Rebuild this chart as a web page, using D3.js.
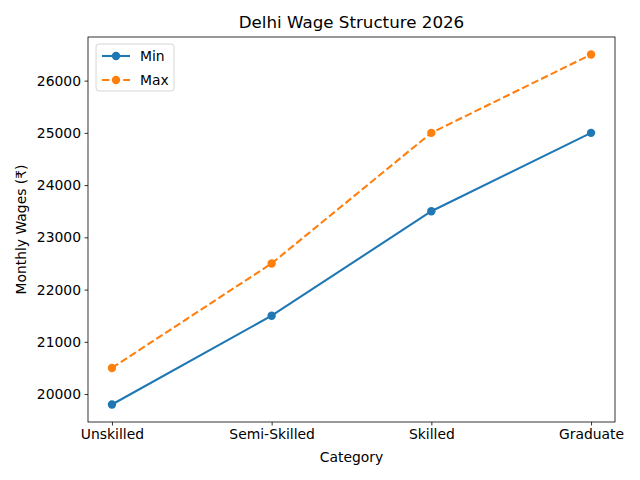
<!DOCTYPE html>
<html>
<head>
<meta charset="utf-8">
<script src="https://cdn.jsdelivr.net/npm/d3@7"></script>
<style>
  body { margin: 0; background: #fff; }
  text { font-family: "DejaVu Sans", sans-serif; fill: #000; }
</style>
</head>
<body>
<div id="chart"></div>
<script>
var categories = ["Unskilled", "Semi-Skilled", "Skilled", "Graduate"];
var minWages = [19800, 21500, 23500, 25000];
var maxWages = [20500, 22500, 25000, 26500];
var yTicks = [20000, 21000, 22000, 23000, 24000, 25000, 26000];

var series = [
  { name: "Min", values: minWages, color: "#1f77b4", dash: null },
  { name: "Max", values: maxWages, color: "#ff7f0e", dash: "7.4,3.2" }
];

var width = 640, height = 480;
var margin = { left: 88, right: 25, top: 37, bottom: 58 };

var svg = d3.select("#chart").append("svg")
  .attr("width", width)
  .attr("height", height);

var lo = d3.min(minWages), hi = d3.max(maxWages), pad = (hi - lo) * 0.05;
var x = d3.scaleLinear()
  .domain([-0.15, categories.length - 1 + 0.15])
  .range([margin.left, width - margin.right]);
var y = d3.scaleLinear()
  .domain([lo - pad, hi + pad])
  .range([height - margin.bottom, margin.top]);

// axes
var xAxis = d3.axisBottom(x)
  .tickValues(d3.range(categories.length))
  .tickFormat(function (i) { return categories[i]; })
  .tickSizeOuter(0).tickSize(3.5).tickPadding(3.5);
var yAxis = d3.axisLeft(y)
  .tickValues(yTicks)
  .tickFormat(d3.format("d"))
  .tickSizeOuter(0).tickSize(3.5).tickPadding(3.5);

var gx = svg.append("g")
  .attr("transform", "translate(0," + (height - margin.bottom) + ")")
  .call(xAxis);
var gy = svg.append("g")
  .attr("transform", "translate(" + margin.left + ",0)")
  .call(yAxis);
[gx, gy].forEach(function (g) {
  g.select(".domain").remove();
  g.selectAll(".tick line").attr("stroke", "#000").attr("stroke-width", 0.8);
  g.selectAll(".tick text").style("font-size", "13.9px").attr("fill", "#000");
});

svg.append("rect")
  .attr("x", margin.left).attr("y", margin.top)
  .attr("width", width - margin.left - margin.right)
  .attr("height", height - margin.top - margin.bottom)
  .attr("fill", "none").attr("stroke", "#000").attr("stroke-width", 0.8);

// lines and markers
var line = d3.line()
  .x(function (d, i) { return x(i); })
  .y(function (d) { return y(d); });

series.forEach(function (s) {
  svg.append("path")
    .datum(s.values)
    .attr("d", line)
    .attr("fill", "none")
    .attr("stroke", s.color)
    .attr("stroke-width", 2.08)
    .attr("stroke-dasharray", s.dash);
  svg.selectAll(null)
    .data(s.values)
    .enter()
    .append("circle")
      .attr("cx", function (d, i) { return x(i); })
      .attr("cy", function (d) { return y(d); })
      .attr("r", 4.2)
      .attr("fill", s.color);
});

// titles
svg.append("text")
  .attr("x", (margin.left + width - margin.right) / 2)
  .attr("y", 28)
  .attr("text-anchor", "middle")
  .style("font-size", "16.7px")
  .text("Delhi Wage Structure 2026");

svg.append("text")
  .attr("x", (margin.left + width - margin.right) / 2)
  .attr("y", 462)
  .attr("text-anchor", "middle")
  .style("font-size", "13.9px")
  .text("Category");

svg.append("text")
  .attr("transform", "translate(26," + ((margin.top + height - margin.bottom) / 2) + ") rotate(-90)")
  .attr("text-anchor", "middle")
  .style("font-size", "13.9px")
  .text("Monthly Wages (₹)");

// legend
var lg = svg.append("g").attr("transform", "translate(96,44)");
lg.append("rect")
  .attr("width", 78).attr("height", 47).attr("rx", 3)
  .attr("fill", "#fff").attr("fill-opacity", 0.8)
  .attr("stroke", "#ccc").attr("stroke-width", 0.8);
series.forEach(function (s, i) {
  var cy = 12 + i * 24;
  lg.append("line")
    .attr("x1", 6).attr("x2", 34).attr("y1", cy).attr("y2", cy)
    .attr("stroke", s.color).attr("stroke-width", 2.08)
    .attr("stroke-dasharray", s.dash);
  lg.append("circle").attr("cx", 20).attr("cy", cy).attr("r", 4.2).attr("fill", s.color);
  lg.append("text")
    .attr("x", 44).attr("y", cy + 5)
    .style("font-size", "13.9px")
    .text(s.name);
});
</script>
</body>
</html>
